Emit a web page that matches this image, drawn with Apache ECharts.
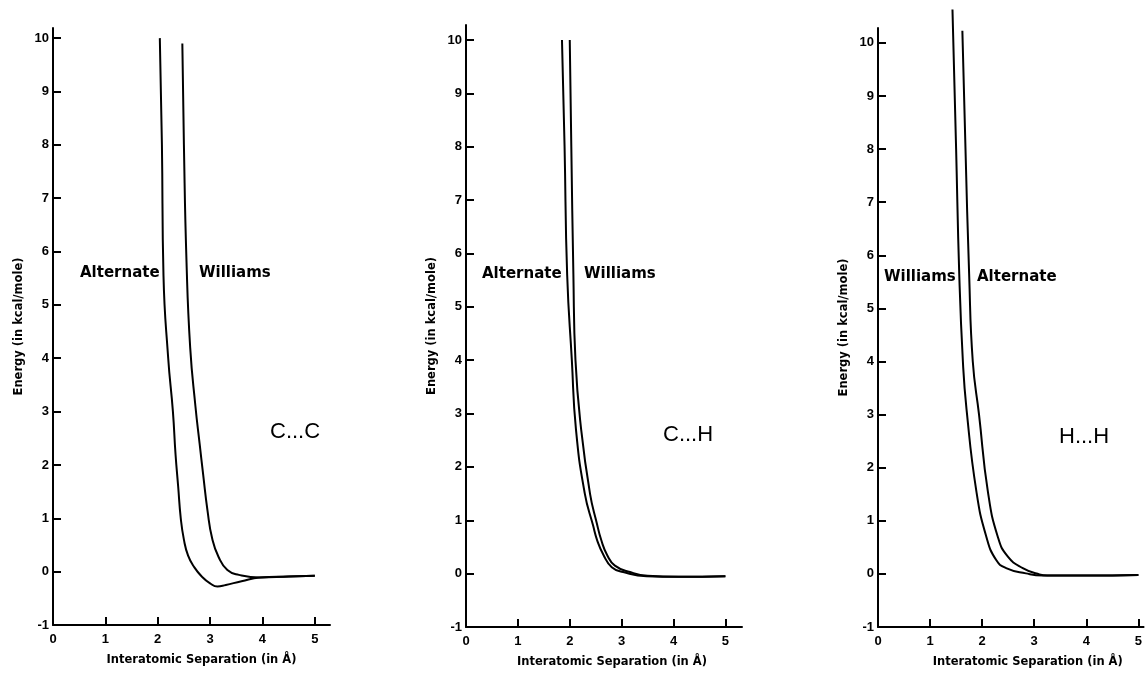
<!DOCTYPE html>
<html>
<head>
<meta charset="utf-8">
<title>Energy vs interatomic separation</title>
<script src="https://cdn.jsdelivr.net/npm/echarts@6/dist/echarts.min.js"></script>
<style>
  html, body { margin: 0; padding: 0; background: #fff; }
  #chart { width: 1145px; height: 673px; }
</style>
</head>
<body>
<div id="chart"></div>
<script>
// tick labels shared by the three panels
const xTicks = [0, 1, 2, 3, 4, 5];
const yTicks = [-1, 0, 1, 2, 3, 4, 5, 6, 7, 8, 9, 10];

// C...C  [separation, energy]
const ccAlternate = [[2.04, 10], [2.08, 8], [2.11, 5.55], [2.2, 4.0], [2.29, 3.0], [2.34, 2.2],
  [2.39, 1.6], [2.44, 1.0], [2.5, 0.6], [2.58, 0.3], [2.7, 0.08], [2.85, -0.1], [3.0, -0.22],
  [3.14, -0.28], [3.3, -0.25], [3.6, -0.18], [3.95, -0.11], [4.5, -0.09], [5.0, -0.075]];
const ccWilliams = [[2.47, 9.9], [2.5, 8], [2.55, 5.8], [2.62, 4.2], [2.72, 3.1], [2.8, 2.4],
  [2.87, 1.8], [2.95, 1.15], [3.04, 0.62], [3.16, 0.28], [3.33, 0.03], [3.55, -0.06],
  [3.95, -0.11], [4.5, -0.09], [5.0, -0.075]];

// C...H
const chAlternate = [[1.85, 10], [1.9, 8], [1.95, 5.6], [2.04, 4.0], [2.12, 2.7], [2.29, 1.5],
  [2.45, 0.9], [2.53, 0.62], [2.65, 0.35], [2.81, 0.12], [3.03, 0.03], [3.48, -0.05],
  [4.1, -0.06], [5.0, -0.05]];
const chWilliams = [[2.0, 10], [2.03, 8], [2.07, 5.6], [2.11, 4.0], [2.22, 2.7], [2.39, 1.5],
  [2.52, 0.95], [2.61, 0.62], [2.72, 0.35], [2.87, 0.15], [3.16, 0.03], [3.5, -0.04],
  [4.1, -0.06], [5.0, -0.05]];

// H...H
const hhWilliams = [[1.43, 10.63], [1.5, 8], [1.56, 5.65], [1.63, 4.0], [1.7, 3.1], [1.89, 1.55],
  [2.08, 0.7], [2.27, 0.26], [2.46, 0.11], [2.84, 0.01], [3.16, -0.03], [4.0, -0.03], [5.0, -0.02]];
const hhAlternate = [[1.62, 10.23], [1.68, 8], [1.75, 5.65], [1.82, 4.0], [1.94, 3.0], [2.11, 1.55],
  [2.3, 0.7], [2.49, 0.33], [2.78, 0.11], [3.1, -0.01], [3.25, -0.03], [4.0, -0.03], [5.0, -0.02]];

const font = 'DejaVu Sans';

function xAxisFor(idx, max, shift) {
  return {
    gridIndex: idx, type: 'value', min: 0, max: max,
    name: 'Interatomic Separation (in Å)', nameLocation: 'middle', nameGap: 29,
    nameTextStyle: { fontFamily: font, fontSize: 11.5, fontWeight: 'bold', color: '#000',
      padding: [0, 0, 0, shift * 2] },
    axisLine: { onZero: false, lineStyle: { color: '#000', width: 2 } },
    axisTick: { inside: true, length: 8, customValues: xTicks, lineStyle: { color: '#000', width: 2 } },
    axisLabel: { customValues: xTicks, margin: 8, fontFamily: 'Liberation Sans', fontSize: 13, fontWeight: 'bold', color: '#000' },
    splitLine: { show: false }
  };
}

function yAxisFor(idx, max) {
  return {
    gridIndex: idx, type: 'value', min: -1, max: max,
    name: 'Energy (in kcal/mole)', nameLocation: 'middle', nameGap: 28,
    nameTextStyle: { fontFamily: font, fontSize: 11.5, fontWeight: 'bold', color: '#000' },
    axisLine: { onZero: false, lineStyle: { color: '#000', width: 2 } },
    axisTick: { inside: true, length: 8, customValues: yTicks, lineStyle: { color: '#000', width: 2 } },
    axisLabel: { customValues: yTicks, margin: 4, fontFamily: 'Liberation Sans', fontSize: 13, fontWeight: 'bold', color: '#000' },
    splitLine: { show: false }
  };
}

function curve(idx, data) {
  return {
    type: 'line', xAxisIndex: idx, yAxisIndex: idx, data: data,
    showSymbol: false, smooth: 0.5, clip: false,
    lineStyle: { color: '#000', width: 2 }
  };
}

function label(text, x, y, size, weight, family) {
  return {
    type: 'text', left: x, top: y,
    style: { text: text, fontFamily: family, fontSize: size, fontWeight: weight, fill: '#000' }
  };
}

const option = {
  backgroundColor: '#fff',
  animation: false,
  grid: [
    { left: 53, top: 28, width: 277, height: 597 },
    { left: 466, top: 25, width: 276, height: 603 },
    { left: 878, top: 28, width: 267, height: 601 }
  ],
  xAxis: [xAxisFor(0, 5.29, 10), xAxisFor(1, 5.32, 8), xAxisFor(2, 5.1, 17)],
  yAxis: [yAxisFor(0, 10.19), yAxisFor(1, 10.28), yAxisFor(2, 10.28)],
  series: [
    curve(0, ccAlternate), curve(0, ccWilliams),
    curve(1, chAlternate), curve(1, chWilliams),
    curve(2, hhWilliams), curve(2, hhAlternate)
  ],
  graphic: [
    label('Alternate', 80, 266, 15, 'bold', font),
    label('Williams', 199, 266, 15, 'bold', font),
    label('C...C', 270, 421, 22, 'normal', 'Liberation Sans'),
    label('Alternate', 482, 267, 15, 'bold', font),
    label('Williams', 584, 267, 15, 'bold', font),
    label('C...H', 663, 424, 22, 'normal', 'Liberation Sans'),
    label('Williams', 884, 270, 15, 'bold', font),
    label('Alternate', 977, 270, 15, 'bold', font),
    label('H...H', 1059, 426, 22, 'normal', 'Liberation Sans')
  ]
};

const chart = echarts.init(document.getElementById('chart'));
chart.setOption(option);
</script>
</body>
</html>
